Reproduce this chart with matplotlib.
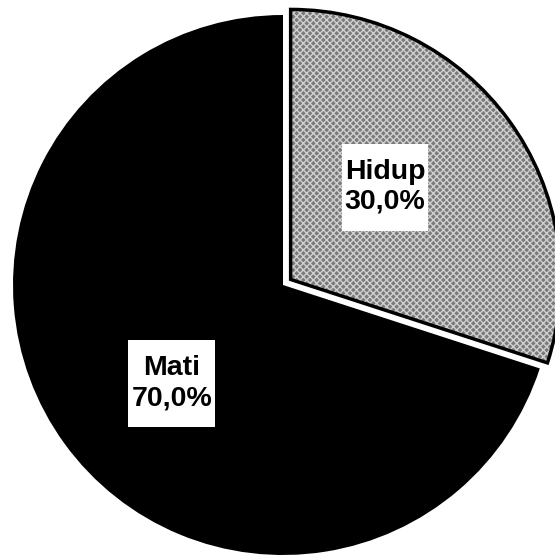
import numpy as np
import matplotlib
matplotlib.use("Agg")
import matplotlib.pyplot as plt
from matplotlib.patches import Wedge, Rectangle

# data
labels = ["Hidup", "Mati"]
values = [30.0, 70.0]

# style
colors = ["#7a7a7a", "#000000"]
explode = [0.035, 0.0]
label_dist = [0.49, 0.55]
label_nudge = [8.5, 5.5]  # degrees
box_pad = dict(left=3, right=3, top=15, bottom=16)  # pixels

plt.rcParams["font.family"] = ["Liberation Sans", "DejaVu Sans"]

fig = plt.figure(figsize=(5.55, 5.55), dpi=100)
ax = fig.add_axes([0, 0, 1, 1])

wedges, _ = ax.pie(values, colors=colors, explode=explode, startangle=90,
                   counterclock=False, radius=1.0,
                   wedgeprops=dict(linewidth=0))

# speckled texture + outline for the grey slice
w = wedges[0]
tex = Wedge(w.center, w.r, w.theta1, w.theta2, facecolor="none",
            edgecolor="#d0d0d0", hatch="xxxxx", linewidth=0)
ax.add_patch(tex)
outline = Wedge(w.center, w.r, w.theta1, w.theta2, facecolor="none",
                edgecolor="black", linewidth=2.5)
ax.add_patch(outline)

# place pie center at about (283, 285) px with radius 270 px
r_px = 270.0
ax.set_xlim(-283 / r_px, (555 - 283) / r_px)
ax.set_ylim(-(555 - 285) / r_px, 285 / r_px)
ax.set_aspect("equal")
ax.axis("off")

total = sum(values)
texts = []
for wd, lab, val, d, nud in zip(wedges, labels, values, label_dist, label_nudge):
    ang = np.deg2rad((wd.theta1 + wd.theta2) / 2 + nud)
    cx, cy = wd.center
    txt = f"{lab}\n{val / total * 100:.1f}%".replace(".", ",")
    t = ax.text(cx + d * np.cos(ang), cy + d * np.sin(ang), txt,
                ha="center", va="center", fontsize=20.5, fontweight="bold",
                linespacing=1.2, zorder=5)
    texts.append(t)

# white label boxes sized from the rendered text
fig.canvas.draw()
inv = ax.transData.inverted()
for t in texts:
    bb = t.get_window_extent()
    x0, y0 = inv.transform((bb.x0 - box_pad["left"], bb.y0 - box_pad["bottom"]))
    x1, y1 = inv.transform((bb.x1 + box_pad["right"], bb.y1 + box_pad["top"]))
    ax.add_patch(Rectangle((x0, y0), x1 - x0, y1 - y0, facecolor="white",
                           edgecolor="none", zorder=4))

fig.savefig("out.png", dpi=100, facecolor="white")
